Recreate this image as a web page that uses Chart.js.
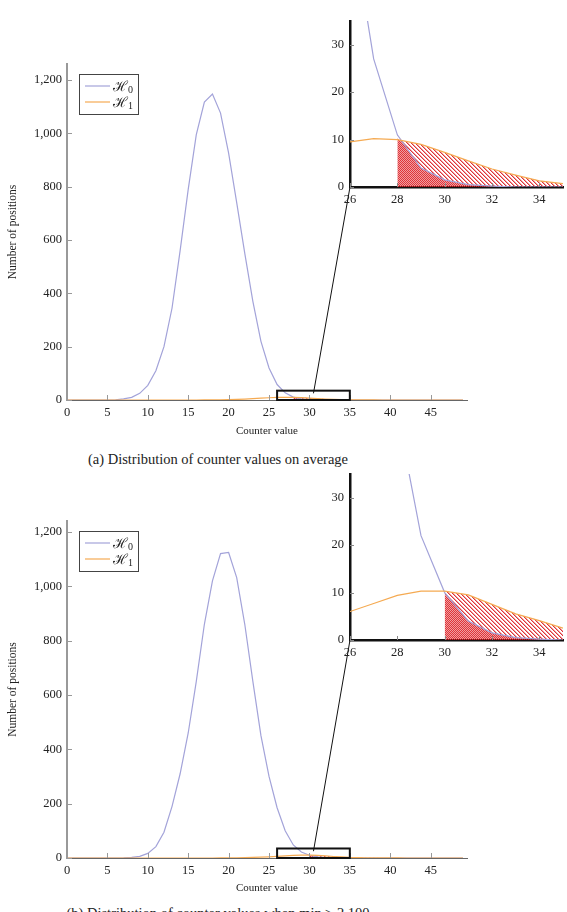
<!DOCTYPE html>
<html>
<head>
<meta charset="utf-8">
<script src="https://cdn.jsdelivr.net/npm/chart.js@4.4.1/dist/chart.umd.min.js"></script>
<style>
  body { margin: 0; background: #fff; }
  #page { position: relative; width: 567px; height: 912px; overflow: hidden; }
  canvas { position: absolute; }
  .cap { position: absolute; left: 0; width: 436px; text-align: center; font-family: 'Liberation Serif', serif;
         font-size: 14.5px; line-height: 16px; white-space: nowrap; color: #222; }
</style>
</head>
<body>
<div id="page">
  <canvas id="mainA" width="567" height="445" style="left:0px;top:0px"></canvas>
  <canvas id="zoomA" width="307" height="215" style="left:260px;top:0px"></canvas>
  <div class="cap" style="top:451px">(a) Distribution of counter values on average</div>
  <canvas id="mainB" width="567" height="445" style="left:0px;top:460px"></canvas>
  <canvas id="zoomB" width="307" height="215" style="left:260px;top:453px"></canvas>
  <div class="cap" style="top:905px">(b) Distribution of counter values when min ≥ 2,100</div>
</div>
<script>
// counter values (x axis), same for both panels
var counters = [0, 1, 2, 3, 4, 5, 6, 7, 8, 9,
  10, 11, 12, 13, 14, 15, 16, 17, 18, 19,
  20, 21, 22, 23, 24, 25, 26, 27, 28, 29,
  30, 31, 32, 33, 34, 35, 36, 37, 38, 39,
  40, 41, 42, 43, 44, 45, 46, 47, 48, 49];

// (a) on average
var h0Avg = [0, 0, 0, 0, 0, 0, 1, 4, 10, 25,
  55, 110, 200, 345, 560, 790, 995, 1117, 1147, 1076,
  926, 740, 550, 370, 220, 120, 58, 27, 11, 4,
  1.5, 0.5, 0.2, 0, 0, 0, 0, 0, 0, 0,
  0, 0, 0, 0, 0, 0, 0, 0, 0, 0];
var h1Avg = [0, 0, 0, 0, 0, 0, 0, 0, 0, 0,
  0, 0, 0, 0, 0, 0, 0, 0.1, 0.2, 0.5,
  1.1, 2, 3.3, 5, 6.8, 8.5, 9.5, 10.2, 10, 9,
  7.3, 5.5, 3.8, 2.5, 1.3, 0.7, 0.4, 0.2, 0.1, 0,
  0, 0, 0, 0, 0, 0, 0, 0, 0, 0];
var thresholdAvg = 28;

// (b) min
var h0Min = [0, 0, 0, 0, 0, 0, 0, 0.5, 2, 6,
  17, 42, 95, 190, 310, 460, 650, 860, 1020, 1120,
  1124, 1032, 860, 650, 450, 300, 185, 100, 48, 22,
  10, 4, 1.5, 0.5, 0.2, 0, 0, 0, 0, 0,
  0, 0, 0, 0, 0, 0, 0, 0, 0, 0];
var h1Min = [0, 0, 0, 0, 0, 0, 0, 0, 0, 0,
  0, 0, 0, 0, 0, 0, 0, 0, 0, 0.2,
  0.4, 0.8, 1.3, 2.1, 3.2, 4.5, 6, 7.7, 9.4, 10.3,
  10.3, 9.5, 7.5, 5.5, 4.1, 2.5, 1.6, 1, 0.6, 0.3,
  0.15, 0.1, 0, 0, 0, 0, 0, 0, 0, 0];
var thresholdMin = 30;

var seriesLabels = ['ℋ0', 'ℋ1'];
var mainXTicks = [0, 5, 10, 15, 20, 25, 30, 35, 40, 45];
var mainYTicks = [0, 200, 400, 600, 800, 1000, 1200];
var zoomXTicks = [26, 28, 30, 32, 34];
var zoomYTicks = [0, 10, 20, 30];
var zoomXRange = [26, 35];
var zoomYRange = [0, 35];

var purple = '#a3a3d9';
var orange = '#f5aa52';
var serif = "'Liberation Serif', serif";
var tickFont = {family: serif, size: 12.5};

// diagonal red hatch (north west lines), built pixel by pixel so it stays red
function hatch(shift) {
  var t = document.createElement('canvas');
  t.width = 4; t.height = 4;
  var c = t.getContext('2d');
  var img = c.createImageData(4, 4);
  for (var j = 0; j < 4; j++) {
    for (var i = 0; i < 4; i++) {
      var k = ((i - j + shift) % 4 + 4) % 4;
      var p = (j * 4 + i) * 4;
      if (k < 2) {
        img.data[p] = 220; img.data[p + 1] = 30; img.data[p + 2] = 35; img.data[p + 3] = k == 0 ? 230 : 110;
      }
    }
  }
  c.putImageData(img, 0, 0);
  return c.createPattern(t, 'repeat');
}
var hatchA = hatch(0);
var hatchB = hatch(2);

function points(ys, from) {
  var out = [];
  counters.forEach(function (c, i) {
    if (from === undefined || c >= from) out.push({x: c, y: ys[i]});
  });
  return out;
}

function datasets(h0, h1, thr) {
  return [
    {label: seriesLabels[0], data: points(h0), borderColor: purple, borderWidth: 1.2, pointRadius: 0, order: 1},
    {label: seriesLabels[1], data: points(h1), borderColor: orange, borderWidth: 1.2, pointRadius: 0, order: 0},
    {data: points(h1, thr), borderWidth: 0, pointRadius: 0, fill: 'origin', backgroundColor: hatchA, order: 3},
    {data: points(h0, thr), borderWidth: 0, pointRadius: 0, fill: 'origin', backgroundColor: hatchB, order: 2}
  ];
}

// tick marks pointing into the plot
var innerTicks = {
  id: 'innerTicks',
  afterDatasetsDraw: function (chart, args, opts) {
    var ctx = chart.ctx, a = chart.chartArea, x = chart.scales.x, y = chart.scales.y;
    ctx.save();
    ctx.strokeStyle = opts.color;
    ctx.lineWidth = 1;
    x.ticks.forEach(function (t) {
      var px = Math.round(x.getPixelForValue(t.value)) + 0.5;
      ctx.beginPath(); ctx.moveTo(px, a.bottom); ctx.lineTo(px, a.bottom - opts.len); ctx.stroke();
    });
    y.ticks.forEach(function (t) {
      var py = Math.round(y.getPixelForValue(t.value)) + 0.5;
      ctx.beginPath(); ctx.moveTo(a.left, py); ctx.lineTo(a.left + opts.len, py); ctx.stroke();
    });
    ctx.restore();
  }
};

// boxed legend in the top left corner of the plot
var boxLegend = {
  id: 'boxLegend',
  afterDraw: function (chart) {
    var ctx = chart.ctx, a = chart.chartArea;
    var bx = a.left + 12, by = a.top + 10, bw = 59, bh = 40;
    ctx.save();
    ctx.fillStyle = '#fff';
    ctx.fillRect(bx, by, bw, bh);
    ctx.strokeStyle = '#444';
    ctx.lineWidth = 1;
    ctx.strokeRect(bx + 0.5, by + 0.5, bw, bh);
    chart.data.datasets.slice(0, 2).forEach(function (ds, i) {
      var ly = by + 12 + i * 16;
      ctx.strokeStyle = ds.borderColor;
      ctx.lineWidth = 1.2;
      ctx.beginPath(); ctx.moveTo(bx + 6, ly); ctx.lineTo(bx + 31, ly); ctx.stroke();
      ctx.fillStyle = '#222';
      ctx.textBaseline = 'alphabetic';
      ctx.font = "14px 'DejaVu Serif', serif";
      ctx.fillText(ds.label.charAt(0), bx + 34, ly + 5);
      var w = ctx.measureText(ds.label.charAt(0)).width;
      ctx.font = "10px " + serif;
      ctx.fillText(ds.label.slice(1), bx + 34 + w, ly + 7);
    });
    ctx.restore();
  }
};

function zoomLink(getInset, dx, dy) {
  return {
    id: 'zoomLink',
    afterDraw: function (chart) {
      var ctx = chart.ctx, xs = chart.scales.x, ys = chart.scales.y;
      var inset = getInset();
      var x0 = xs.getPixelForValue(zoomXRange[0]), x1 = xs.getPixelForValue(zoomXRange[1]);
      var y0 = ys.getPixelForValue(zoomYRange[0]), y1 = ys.getPixelForValue(zoomYRange[1]);
      ctx.save();
      ctx.strokeStyle = '#111';
      ctx.lineWidth = 2;
      ctx.strokeRect(x0, y1, x1 - x0, y0 - y1);
      var tx = inset.scales.x.getPixelForValue(zoomXRange[0]) + dx;
      var ty = inset.scales.y.getPixelForValue(zoomYRange[0]) + dy;
      ctx.lineWidth = 1;
      ctx.beginPath();
      ctx.moveTo(xs.getPixelForValue(30.5), ys.getPixelForValue(25));
      ctx.lineTo(tx, ty);
      ctx.stroke();
      ctx.restore();
    }
  };
}

function setTicks(list) {
  return function (scale) { scale.ticks = list.map(function (v) { return {value: v}; }); };
}

function buildZoom(id, h0, h1, thr) {
  var ctx = document.getElementById(id).getContext('2d');
  return new Chart(ctx, {
    type: 'line',
    data: {datasets: datasets(h0, h1, thr)},
    plugins: [innerTicks],
    options: {
      responsive: false, animation: false, devicePixelRatio: 1,
      layout: {padding: {left: 0, right: 4, top: 21, bottom: 0}},
      plugins: {legend: {display: false}, tooltip: {enabled: false}, innerTicks: {color: '#888', len: 4}},
      scales: {
        x: {
          type: 'linear', min: zoomXRange[0], max: zoomXRange[1],
          afterBuildTicks: setTicks(zoomXTicks),
          afterFit: function (s) { s.height = 28; },
          grid: {display: false, drawTicks: false}, border: {color: '#111', width: 2.5},
          ticks: {autoSkip: false, maxRotation: 0, padding: 5, color: '#222', font: tickFont}
        },
        y: {
          type: 'linear', min: zoomYRange[0], max: zoomYRange[1],
          afterBuildTicks: setTicks(zoomYTicks),
          afterFit: function (s) { s.width = 90; },
          grid: {display: false, drawTicks: false}, border: {color: '#111', width: 2.5},
          ticks: {padding: 6, color: '#222', font: tickFont}
        }
      }
    }
  });
}

function buildMain(id, h0, h1, thr, yMax, padTop, xHeight, titlePad, getInset, dx, dy) {
  var ctx = document.getElementById(id).getContext('2d');
  return new Chart(ctx, {
    type: 'line',
    data: {datasets: datasets(h0, h1, thr)},
    plugins: [innerTicks, boxLegend, zoomLink(getInset, dx, dy)],
    options: {
      responsive: false, animation: false, devicePixelRatio: 1,
      layout: {padding: {left: 0, right: 100, top: padTop, bottom: 0}},
      plugins: {legend: {display: false}, tooltip: {enabled: false}, innerTicks: {color: '#999', len: 5}},
      scales: {
        x: {
          type: 'linear', min: 0, max: 49.5,
          afterBuildTicks: setTicks(mainXTicks),
          afterFit: function (s) { s.height = xHeight; },
          grid: {display: false, drawTicks: false}, border: {color: '#666', width: 1},
          ticks: {autoSkip: false, maxRotation: 0, padding: 5, color: '#222', font: tickFont},
          title: {display: true, text: 'Counter value', color: '#222', padding: {top: 0, bottom: titlePad},
                  font: {family: serif, size: 11, lineHeight: 1.2}}
        },
        y: {
          type: 'linear', min: 0, max: yMax,
          afterBuildTicks: setTicks(mainYTicks),
          afterFit: function (s) { s.width = 67; },
          grid: {display: false, drawTicks: false}, border: {color: '#999', width: 2},
          ticks: {padding: 5, color: '#222', font: tickFont,
                  callback: function (v) { return v.toLocaleString('en-US'); }},
          title: {display: true, text: 'Number of positions', color: '#222', padding: {top: 6, bottom: 0},
                  font: {family: serif, size: 11.5, lineHeight: 1.2}}
        }
      }
    }
  });
}

var zoomA = buildZoom('zoomA', h0Avg, h1Avg, thresholdAvg);
var mainA = buildMain('mainA', h0Avg, h1Avg, thresholdAvg, 1260, 64, 45, 7,
  function () { return zoomA; }, 260, 0);

var zoomB = buildZoom('zoomB', h0Min, h1Min, thresholdMin);
var mainB = buildMain('mainB', h0Min, h1Min, thresholdMin, 1240, 61, 47, 10,
  function () { return zoomB; }, 260, 453 - 460);
</script>
</body>
</html>
